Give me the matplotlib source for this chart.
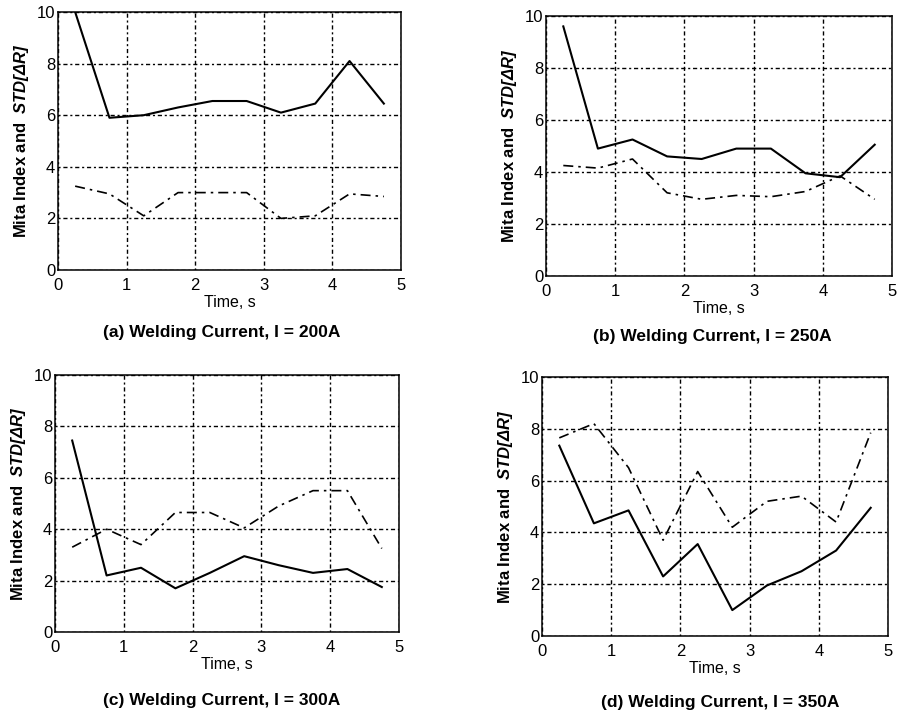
import numpy as np
import matplotlib
matplotlib.use("Agg")
import matplotlib.pyplot as plt

plt.rcParams["font.family"] = ["Liberation Sans", "DejaVu Sans"]
plt.rcParams["mathtext.fontset"] = "custom"
plt.rcParams["mathtext.bfit"] = "Liberation Sans:bold:italic"
plt.rcParams["mathtext.it"] = "Liberation Sans:italic"
plt.rcParams["mathtext.bf"] = "Liberation Sans:bold"

# time samples (s), centre of each 0.5 s window
time_s = [0.25, 0.75, 1.25, 1.75, 2.25, 2.75, 3.25, 3.75, 4.25, 4.75]

# Mita index (solid) and STD[dR] (dash-dot) for each welding current
mita_200 = [10.0, 5.9, 6.0, 6.3, 6.55, 6.55, 6.1, 6.45, 8.1, 6.45]
std_200 = [3.25, 2.95, 2.1, 3.0, 3.0, 3.0, 2.0, 2.1, 2.95, 2.85]

mita_250 = [9.6, 4.9, 5.25, 4.6, 4.5, 4.9, 4.9, 3.95, 3.8, 5.05]
std_250 = [4.25, 4.15, 4.5, 3.2, 2.95, 3.1, 3.05, 3.25, 3.85, 2.95]

mita_300 = [7.45, 2.2, 2.5, 1.7, 2.3, 2.95, 2.6, 2.3, 2.45, 1.75]
std_300 = [3.3, 4.0, 3.4, 4.65, 4.65, 4.05, 4.9, 5.5, 5.5, 3.25]

mita_350 = [7.35, 4.35, 4.85, 2.3, 3.55, 1.0, 1.95, 2.5, 3.3, 4.95]
std_350 = [7.65, 8.2, 6.5, 3.7, 6.35, 4.2, 5.2, 5.4, 4.4, 7.85]

captions = ["(a) Welding Current, I = 200A", "(b) Welding Current, I = 250A",
            "(c) Welding Current, I = 300A", "(d) Welding Current, I = 350A"]

W, H = 899, 720
# axes boxes in pixels: left, top, right, bottom ; caption centre x, y
boxes = [(58, 12, 401, 270, 222, 333),
         (546, 16, 892, 276, 712, 337),
         (55, 375, 399, 632, 222, 700),
         (542, 377, 888, 636, 720, 703)]

fig = plt.figure(figsize=(W / 100, H / 100), dpi=100)

panels = [(mita_200, std_200), (mita_250, std_250),
          (mita_300, std_300), (mita_350, std_350)]

for (mita, std), cap, (l, t, r, b, cx, cy) in zip(panels, captions, boxes):
    ax = fig.add_axes([l / W, 1 - b / H, (r - l) / W, (b - t) / H])
    ax.plot(time_s, mita, color="black", lw=1.5, linestyle="-")
    ax.plot(time_s, std, color="black", lw=1.2, linestyle=(0, (6, 3, 1.5, 3)))
    ax.set_xlim(0, 5)
    ax.set_ylim(0, 10)
    ax.set_xticks(range(6))
    ax.set_yticks(range(0, 11, 2))
    ax.grid(True, color="black", lw=1.0, linestyle=(0, (1.5, 2, 3, 2)))
    ax.tick_params(direction="in", length=0, labelsize=12)
    ax.tick_params(axis="y", pad=2)
    ax.tick_params(axis="x", pad=6)
    for sp in ax.spines.values():
        sp.set_linewidth(1.1)
    ax.set_xlabel("Time, s", fontsize=11.5, labelpad=1)
    ax.set_ylabel(r"Mita Index and  $\mathbfit{STD[\Delta R]}$",
                  fontsize=12, fontweight="bold", labelpad=4)
    fig.text(cx / W, 1 - cy / H, cap, ha="center", va="center",
             fontsize=12.5, fontweight="bold")

fig.savefig("out.png", dpi=100)
